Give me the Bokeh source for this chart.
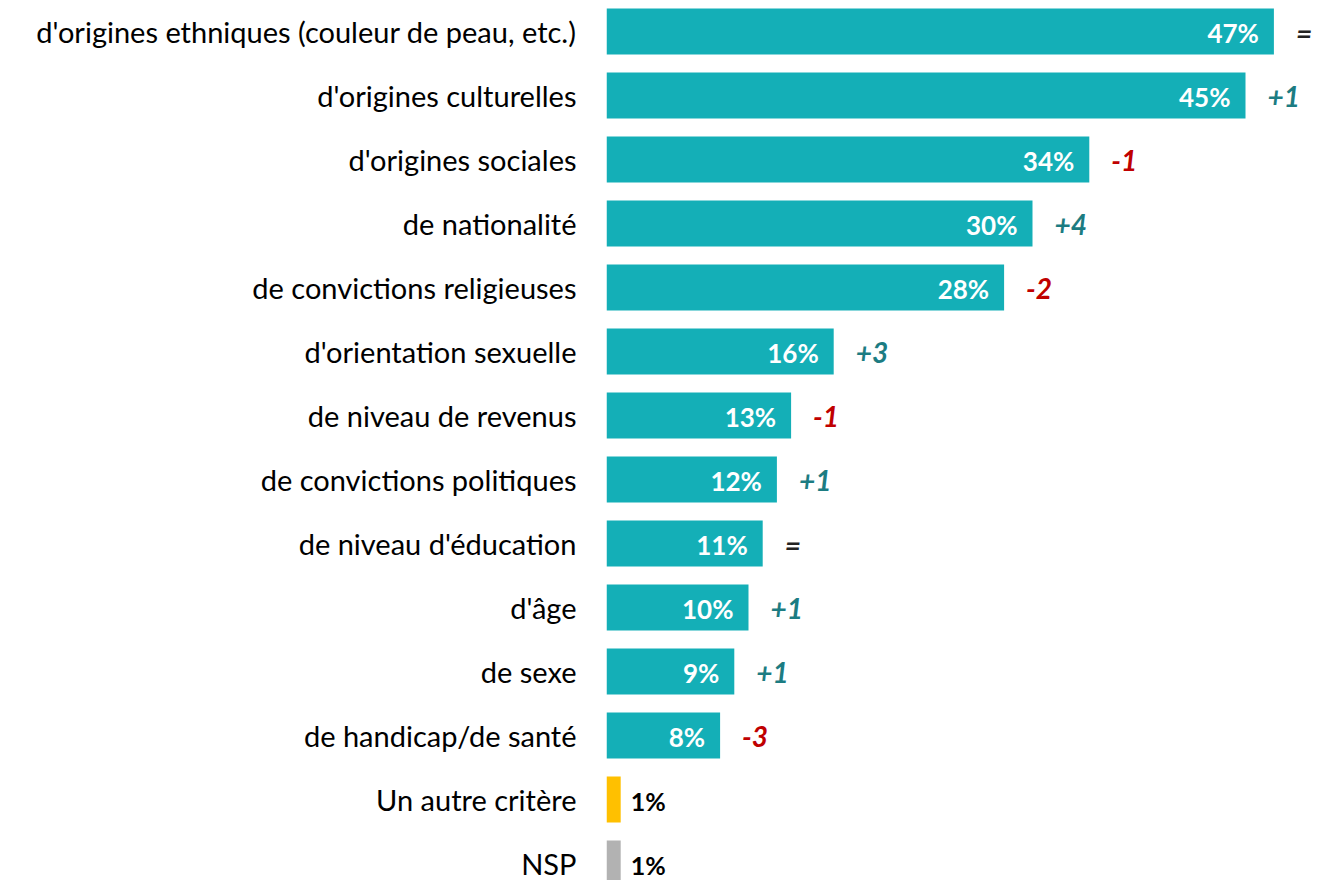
from bokeh.plotting import figure
from bokeh.models import ColumnDataSource, Range1d, FixedTicker
from bokeh.core.properties import value
from bokeh.embed import file_html
from bokeh.resources import INLINE

categories = [
    "d'origines ethniques (couleur de peau, etc.)",
    "d'origines culturelles",
    "d'origines sociales",
    "de nationalité",
    "de convictions religieuses",
    "d'orientation sexuelle",
    "de niveau de revenus",
    "de convictions politiques",
    "de niveau d'éducation",
    "d'âge",
    "de sexe",
    "de handicap/de santé",
    "Un autre critère",
    "NSP",
]
values = [47, 45, 34, 30, 28, 16, 13, 12, 11, 10, 9, 8, 1, 1]
deltas = ["=", "+1", "-1", "+4", "-2", "+3", "-1", "+1", "=", "+1", "+1", "-3", "", ""]

TEAL = "#14AFB7"
YELLOW = "#FFC000"
GREY = "#B2B2B2"
POS = "#1C7C82"
NEG = "#C00000"
EQ = "#222222"
FONT = "Lato"

n = len(categories)
ys = list(range(n))
bar_colors = [TEAL] * 12 + [YELLOW, GREY]
labels = [f"{v}%" for v in values]

def dcolor(d):
    if d.startswith("+"):
        return POS
    if d.startswith("-"):
        return NEG
    return EQ

W, H = 1325, 880
left = 606
px_per_unit = 14.2
top = -31 / 64.0
p = figure(width=W, height=H, output_backend="svg", toolbar_location=None,
           x_range=Range1d(0, (W - left) / px_per_unit),
           y_range=Range1d(top + H / 64.0, top),
           min_border_left=left, min_border_right=0, min_border_top=0, min_border_bottom=0)
p.outline_line_color = None
p.xgrid.visible = False
p.ygrid.visible = False
p.xaxis.visible = False
p.background_fill_color = "white"

ax = p.yaxis[0]
ax.ticker = FixedTicker(ticks=ys)
ax.major_label_overrides = {i: c for i, c in enumerate(categories)}
ax.axis_line_color = None
ax.major_tick_line_color = None
ax.minor_tick_line_color = None
ax.major_tick_out = 0
ax.major_tick_in = 0
ax.major_label_standoff = 30
ax.major_label_text_font = FONT
ax.major_label_text_font_size = "29px"
ax.major_label_text_color = "#000000"

src = ColumnDataSource(dict(y=ys, v=values, c=bar_colors, lab=labels))
p.hbar(y="y", left=0, right="v", height=0.72, fill_color="c", line_color=None, source=src)

main = ColumnDataSource(dict(y=ys[:12], v=values[:12], lab=labels[:12]))
p.text(x="v", y="y", text="lab", source=main, x_offset=-15, y_offset=1, text_align="right",
       text_baseline="middle", text_color="white", text_font=value(FONT),
       text_font_style="bold", text_font_size="26px")

small = ColumnDataSource(dict(y=ys[12:], v=values[12:], lab=labels[12:]))
p.text(x="v", y="y", text="lab", source=small, x_offset=10, text_align="left",
       text_baseline="middle", y_offset=1, text_color="black", text_font=value(FONT),
       text_font_style="bold", text_font_size="25px")

dsrc = ColumnDataSource(dict(y=ys[:12], v=values[:12], d=deltas[:12],
                             c=[dcolor(d) for d in deltas[:12]]))
p.text(x="v", y="y", text="d", source=dsrc, x_offset=22, y_offset=1, text_align="left",
       text_baseline="middle", text_color="c", text_font=value(FONT),
       text_font_style="bold italic", text_font_size="28px")

open("out.html", "w").write(file_html(p, INLINE))
